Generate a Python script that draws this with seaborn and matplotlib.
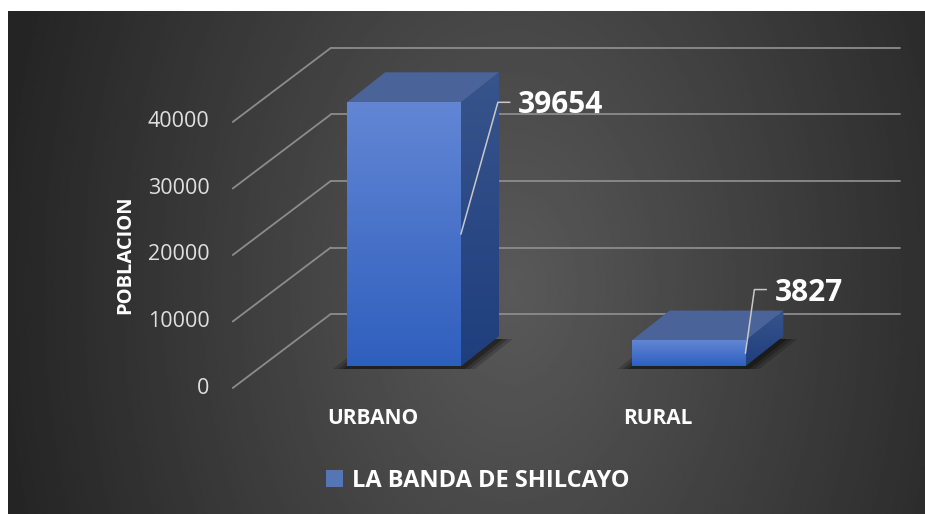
import numpy as np
import pandas as pd
import matplotlib
matplotlib.use("Agg")
import matplotlib.pyplot as plt
from matplotlib.patches import Polygon
from matplotlib.colors import LinearSegmentedColormap
import seaborn as sns

# data
zonas = ["URBANO", "RURAL"]
poblacion = [39654, 3827]
serie = "LA BANDA DE SHILCAYO"
yticks = [0, 10000, 20000, 30000, 40000]

df = pd.DataFrame({"zona": zonas, "poblacion": poblacion, "serie": serie})

sns.set_theme(style="white")
plt.rcParams["font.family"] = ["Open Sans", "DejaVu Sans"]

W, H = 925, 514
fig = plt.figure(figsize=(W / 100, H / 100), dpi=100, facecolor="white")

# dark radial background
bg = fig.add_axes([8 / W, 0, 1 - 8 / W, 503 / H], zorder=-10)
X, Y = np.meshgrid(np.linspace(0, 1, 400), np.linspace(0, 1, 250))
r = np.sqrt(((X - 0.55) / 0.55) ** 2 + ((Y - 0.45) / 1.5) ** 2)
v = np.clip(0.35 - 0.2 * r, 0.145, 0.35)
bg.imshow(v, cmap="gray", vmin=0, vmax=1, origin="lower", aspect="auto",
          extent=[0, 1, 0, 1], interpolation="bilinear")
bg.axis("off")

# plot area = front plane of the bars
ax = fig.add_axes([261.75 / W, 148 / H, 569 / W, 266 / H])
sns.barplot(data=df, x="zona", y="poblacion", hue="serie", palette=["#4472C4"],
            width=0.4, ax=ax)
ax.set_xlim(-0.5, 1.5)
ax.set_ylim(0, 40000)
ax.set_autoscale_on(False)
ax.axis("off")
ax.patch.set_alpha(0)

leg = ax.get_legend()
handles = leg.legend_handles
labels = [t.get_text() for t in leg.get_texts()]
leg.remove()
for hd in handles:
    hd.set_edgecolor("none")


def off(dx, dy):
    # pixel offset -> data offset
    inv = ax.transData.inverted()
    a = inv.transform((0, 0))
    b = inv.transform((dx, dy))
    return b[0] - a[0], b[1] - a[1]


bd = off(38, 30)     # bar depth
fr = off(-29, -22)   # front edge of floor / left wall
bk = off(69, 52)     # back wall
lab = off(-23, 0)

grid_kw = dict(color="#8c8c8c", lw=1.3, clip_on=False, zorder=1)
for t in yticks:
    ax.plot([-0.5 + bk[0], 1.5 + bk[0]], [t + bk[1]] * 2, **grid_kw)
    ax.plot([-0.5 + fr[0], -0.5 + bk[0]], [t + fr[1], t + bk[1]], **grid_kw)
    ax.text(-0.5 + fr[0] + lab[0], t + fr[1], f"{t}", ha="right", va="center",
            color="#e0e0e0", fontsize=15.5)

front_cmap = LinearSegmentedColormap.from_list("front", ["#2f5fbe", "#6286d4"])
side_cmap = LinearSegmentedColormap.from_list("side", ["#1e3e7d", "#38548c"])
grad = np.linspace(0, 1, 128)[:, None]

label_off = [(57, -3), (29, 48)]

for p, val, lo in zip(ax.patches, poblacion, label_off):
    x0 = p.get_x()
    w = p.get_width()
    h = p.get_height()
    x1 = x0 + w
    p.set_visible(False)

    # soft shadow on the floor
    for k, a in zip([14, 9, 4], [0.18, 0.22, 0.3]):
        e = off(k, 0)[0]
        dn = off(0, -3)[1]
        sh = Polygon([(x0 - e, dn), (x1 + e, dn), (x1 + bd[0] + e, bd[1] + dn),
                      (x0 + bd[0] - e, bd[1] + dn)], closed=True,
                     facecolor="black", alpha=a, edgecolor="none",
                     zorder=2, clip_on=False)
        ax.add_patch(sh)

    # side face
    side = Polygon([(x1, 0), (x1 + bd[0], bd[1]), (x1 + bd[0], h + bd[1]), (x1, h)],
                   closed=True, facecolor="#2a4a88", edgecolor="none",
                   transform=ax.transData, zorder=3, clip_on=False)
    ax.add_patch(side)
    im = ax.imshow(grad, extent=[x1, x1 + bd[0], 0, h + bd[1]], origin="lower",
                   cmap=side_cmap, aspect="auto", zorder=3.5, interpolation="bilinear")
    im.set_clip_path(side)
    im.set_clip_box(fig.bbox)

    # top face
    top = Polygon([(x0, h), (x1, h), (x1 + bd[0], h + bd[1]), (x0 + bd[0], h + bd[1])],
                  closed=True, facecolor="#4a6398", edgecolor="none",
                  zorder=4, clip_on=False)
    ax.add_patch(top)

    # front face
    im = ax.imshow(grad, extent=[x0, x1, 0, h], origin="lower", cmap=front_cmap,
                   aspect="auto", zorder=4.5, interpolation="bilinear")
    im.set_clip_box(fig.bbox)

    # data label with leader line
    ax_, ay_ = off(*lo)
    anchor = (x1 + ax_, h + ay_)
    e1 = off(-20, 3)
    e2 = off(-8, 3)
    ax.plot([x1, anchor[0] + e1[0], anchor[0] + e2[0]],
            [h / 2, anchor[1] + e1[1], anchor[1] + e2[1]],
            color="#c8c8c8", lw=1.1, clip_on=False, zorder=6)
    ax.text(anchor[0], anchor[1], f"{val}", ha="left", va="center", fontsize=21.5,
            fontweight="bold", color="white", zorder=7)

# category labels
cat_dx = off(-31, 0)[0]
cat_y = off(0, -52)[1]
for xt, tl in zip(ax.get_xticks(), ax.get_xticklabels()):
    ax.text(xt + cat_dx, cat_y, tl.get_text(), ha="center", va="center",
            fontsize=15, fontweight="bold", color="white")

fig.text(125 / W, 1 - 255 / H, "POBLACION", rotation=90, ha="center", va="center",
         fontsize=14.5, fontweight="bold", color="white")

fig.legend(handles, labels, loc="center", bbox_to_anchor=(478 / W, 1 - 481 / H),
           frameon=False, labelcolor="white", prop=dict(weight="bold", size=17),
           handlelength=0.7, handleheight=0.7, handletextpad=0.4)

fig.savefig("out.png", dpi=100, facecolor="white")
